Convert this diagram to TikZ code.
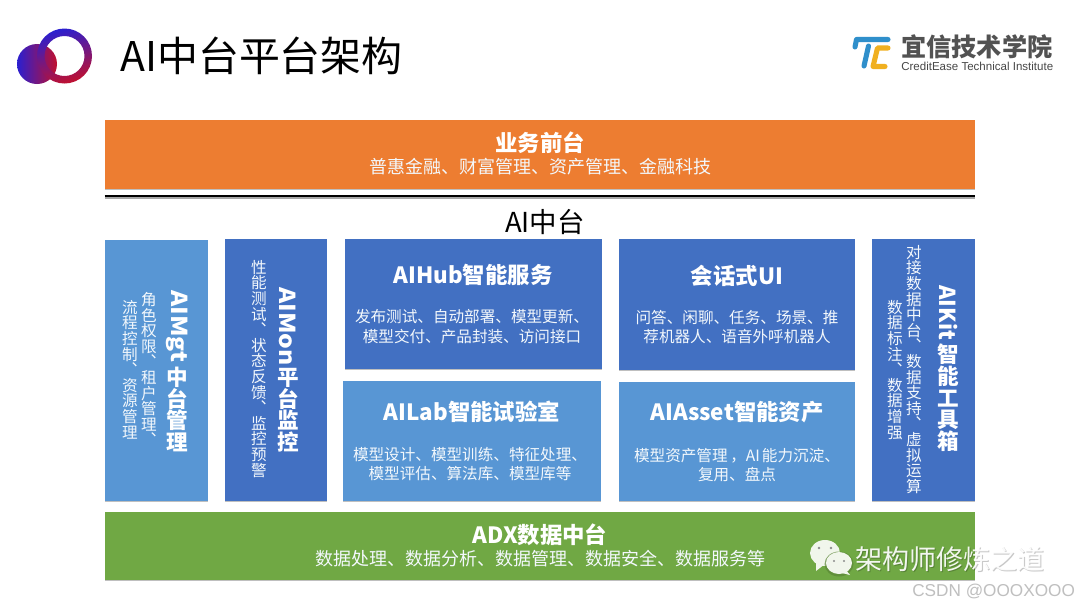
\documentclass[tikz,border=0pt]{standalone}
\usepackage{fontspec}
\usepackage{graphicx}
\usetikzlibrary{shadows,positioning}
\setmainfont{Noto Sans CJK SC}
\newfontfamily\vfont{Noto Sans CJK SC}[RawFeature=+vert]
\newfontfamily\lfont{Liberation Sans}
\definecolor{cdark}{HTML}{4270C2}
\definecolor{clight}{HTML}{5896D4}
\definecolor{corange}{HTML}{ED7D31}
\definecolor{cgreen}{HTML}{70A844}
\definecolor{ctblue}{HTML}{2F8FCB}
\definecolor{ctyellow}{HTML}{F0B020}
\definecolor{clogob}{HTML}{2A1FD0}
\definecolor{clogom}{HTML}{4A1CC0}
\definecolor{clogor}{HTML}{C0102F}
\newcommand{\fs}[1]{\fontsize{#1}{#1}\selectfont}
\newcommand{\tightl}{\lineskiplimit=-100pt\relax}
\newcommand{\wide}[1]{\scalebox{1.12}[1]{#1}}
\tikzset{
  x=0.75pt,y=-0.75pt,
  panel/.style={inner sep=0,outer sep=0,drop shadow={shadow xshift=0.3pt,shadow yshift=-1pt,opacity=.25,fill=black}},
  head/.style={white,font=\fs{16.8}\bfseries,inner sep=0},
  body/.style={white!93!clight,font=\fs{11.7},inner sep=0,align=center},
  vhead/.style={white,font=\fs{16.5}\bfseries,inner sep=0,rotate=-90,anchor=west},
  vstack/.style={inner sep=0,anchor=north,align=center},
  vbodyT/.style={vstack,white!93!clight,font=\vfont\fs{11.7}\tightl},
  vheadT/.style={vstack,white,font=\bfseries\fs{16.2}\tightl},
}
\newcommand{\boxp}[6]{\path[panel,fill=#2] (#3,#4) rectangle (#5,#6) coordinate[midway] (#1);}
\begin{document}
\begin{tikzpicture}
\useasboundingbox[fill=white] (0,0) rectangle (1080,608);
% logo
\path[left color=clogob,middle color=clogom,right color=clogor] (37,64) circle (20);
\path[even odd rule,left color=clogob,middle color=clogom,right color=clogor,shading angle=15] (64.5,56) circle (27.5) (64.5,56) circle (20);
\node[anchor=west,inner sep=0,font=\fs{30.7}] (title) at (120,56) {AI中台平台架构};
% company logo
\draw[ctblue,line width=3.8pt,line join=round,line cap=round] (855,47) -- (856.5,39.5) -- (888,39.5);
\draw[ctblue,line width=3.8pt,line cap=round] (868.5,46) -- (864,66);
\draw[ctyellow,line width=3.8pt,line join=round,line cap=round] (888,48) -- (877.5,48) -- (873,66.5) -- (885,66.5);
\node[anchor=west,inner sep=0,text=black!68,font=\fs{18.9}\bfseries] (cname) at (901,47) {宜信技术学院};
\node[anchor=west,inner sep=0,text=black!72,font=\lfont\fs{8.65}] (cname2) at (901,66) {CreditEase Technical Institute};
% top
\boxp{front}{corange}{104.5}{120}{975}{189}
\node[head] (frontT) at (540,143) {业务前台};
\node[body,font=\fs{13.5}] (frontB) at (540,167) {普惠金融、财富管理、资产管理、金融科技};
\coordinate (ruleL) at (104.5,196);
\coordinate (ruleR) at (975,196);
\draw[black!35,line width=1pt] ([yshift=-1.6pt]ruleL) -- ([yshift=-1.6pt]ruleR);
\draw[black,line width=2.2pt] (ruleL) -- (ruleR);
\node[inner sep=0,font=\fs{20.6}] (mid) at (545,222) {AI中台};
% panels
\boxp{mgt}{clight}{104.5}{240}{207.5}{501}
\boxp{mon}{cdark}{224.5}{239}{327}{501}
\boxp{hub}{cdark}{345}{238.5}{602}{369}
\boxp{lab}{clight}{343}{381}{600.5}{501}
\boxp{ui}{cdark}{619}{238.5}{855}{370}
\boxp{asset}{clight}{619}{381.5}{855}{501}
\boxp{kit}{cdark}{872}{238.5}{975}{501}
\boxp{adx}{cgreen}{104.5}{512}{975}{580}
% centre panels
\node[head] (hubT) at (473,275) {AIHub智能服务};
\node[body] (hubB) at (472,327) {发布测试、自动部署、模型更新、\\[3.2pt]模型交付、产品封装、访问接口};
\node[head] (labT) at (472,412) {AILab智能试验室};
\node[body] (labB) at (470,464) {模型设计、模型训练、特征处理、\\[3.2pt]模型评估、算法库、模型库等};
\node[head] (uiT) at (737,276) {会话式UI};
\node[body] (uiB) at (737,327) {问答、闲聊、任务、场景、推\\[3.2pt]荐机器人、语音外呼机器人};
\node[head] (assetT) at (737,412) {AIAsset智能资产};
\node[body] (assetB) at (737,465) {模型资产管理\hspace{2pt}，AI\hspace{1.5pt}能力沉淀、\\[3.2pt]复用、盘点};
% bottom
\node[head] (adxT) at (540,535) {ADX数据中台};
\node[body,font=\fs{13.5}] (adxB) at (540,559) {数据处理、数据分析、数据管理、数据安全、数据服务等};
% vertical: AIMgt
\node[vhead] (mgtL) at (177,290) {\wide{AIMgt}};
\node[vheadT] (mgtT) at (177,367) {中\\台\\管\\理};
\node[vbodyT] (mgtB1) at (149,292) {角\\色\\权\\限\\、\\租\\户\\管\\理\\、};
\node[vbodyT] (mgtB2) at (130,300) {流\\程\\控\\制\\、\\资\\源\\管\\理};
% vertical: AIMon
\node[vhead] (monL) at (288,287) {\wide{AIMon}};
\node[vheadT] (monT) at (288,368) {平\\台\\监\\控};
\node[vbodyT] (monB) at (259,260) {性\\能\\测\\试\\、\\状\\态\\反\\馈\\、\\监\\控\\预\\警};
% vertical: AIKit
\node[vhead] (kitL) at (948,285) {AIKit};
\node[vheadT] (kitT) at (948,344) {智\\能\\工\\具\\箱};
\node[vbodyT] (kitB1) at (914,245) {对\\接\\数\\据\\中\\台\\、\\数\\据\\支\\持\\、\\虚\\拟\\运\\算};
\node[vbodyT] (kitB2) at (895,300) {数\\据\\标\\注\\、\\数\\据\\增\\强};
% watermark
\fill[white!90!cgreen] (825,553) ellipse (15 and 13);
\fill[white!90!cgreen] (816,562) -- (816,571) -- (825,564) -- cycle;
\fill[cgreen!80!black,opacity=.7] (839,564) ellipse (14.5 and 12.5);
\fill[white!90!cgreen] (839,563) ellipse (13 and 11);
\fill[white!90!cgreen] (846,570) -- (850,575) -- (842,573) -- cycle;
\fill[black!45] (819,548) circle (1.3) (831,548) circle (1.3) (834,561) circle (1.2) (844,561) circle (1.2);
\node[anchor=west,inner sep=0,font=\fs{20.3},text=black,opacity=.22] (wmS) at (855.8,559.8) {架构师修炼之道};
\node[anchor=west,inner sep=0,font=\fs{20.3},text=white,opacity=.92] (wm) at (855,559) {架构师修炼之道};
\node[anchor=west,inner sep=0,font=\lfont\fs{12.9},text=black!25] (csdn) at (912,591) {CSDN @OOOXOOO};
\end{tikzpicture}
\end{document}
